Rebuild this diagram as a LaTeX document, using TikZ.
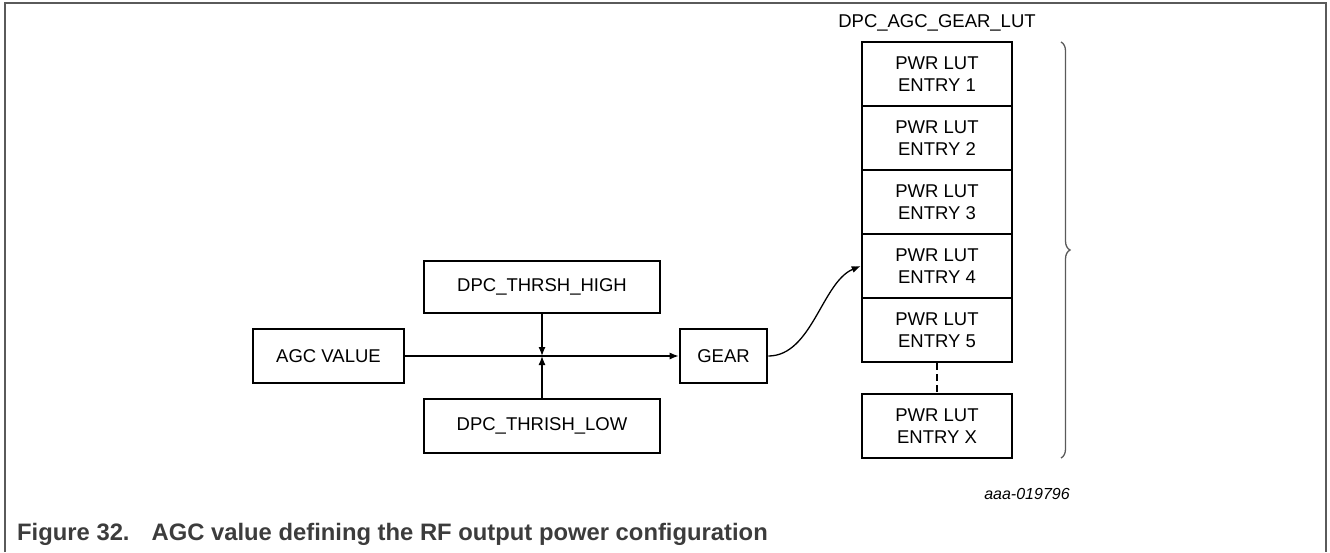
\documentclass[tikz,border=0pt]{standalone}
\usepackage{fontspec}
\setmainfont{Liberation Sans}
\usetikzlibrary{arrows.meta,decorations.pathreplacing}
\definecolor{framegray}{HTML}{5A5A5A}
\definecolor{captiongray}{HTML}{3C3C3C}
\tikzset{
  box/.style={draw=black, line width=2.6pt, rectangle, inner sep=0pt, align=center,
    font=\fontsize{18.5}{21.5}\selectfont},
  arr/.style={line width=1.3pt, -{Latex[length=9pt,width=7pt]}},
  plain/.style={line width=1.3pt},
  lbl/.style={inner sep=0pt, font=\fontsize{18.5}{21.5}\selectfont}
}
\begin{document}
\begin{tikzpicture}[x=1pt,y=-1pt]
\useasboundingbox (0,0) rectangle (1330,552);
% frame
\draw[framegray, line width=1.5pt] (5,552) -- (5,3) -- (1326,3) -- (1326,552);
% left part
\node[box, minimum width=151pt, minimum height=54pt] (agc) at (328.5,356) {AGC VALUE};
\node[box, minimum width=236pt, minimum height=52pt] (high) at (542,287) {DPC\_THRSH\_HIGH};
\node[box, minimum width=236pt, minimum height=54pt] (low) at (542,426) {DPC\_THRISH\_LOW};
\node[box, minimum width=87pt, minimum height=54pt] (gear) at (723.5,356) {GEAR};
\coordinate (j) at (542,356);
\draw[arr] (agc.east) -- (gear.west);
\draw[arr] (high.south) -- (j);
\draw[arr] (low.north) -- (j);
% LUT column
\node[lbl] (luttitle) at (937,23) {DPC\_AGC\_GEAR\_LUT};
\node[box, minimum width=150pt, minimum height=64pt] (e1) at (937,74) {PWR LUT\\ENTRY 1};
\node[box, minimum width=150pt, minimum height=64pt] (e2) at (937,138) {PWR LUT\\ENTRY 2};
\node[box, minimum width=150pt, minimum height=64pt] (e3) at (937,202) {PWR LUT\\ENTRY 3};
\node[box, minimum width=150pt, minimum height=64pt] (e4) at (937,266) {PWR LUT\\ENTRY 4};
\node[box, minimum width=150pt, minimum height=64pt] (e5) at (937,330) {PWR LUT\\ENTRY 5};
\node[box, minimum width=150pt, minimum height=64pt] (ex) at (937,426) {PWR LUT\\ENTRY X};
\draw[plain, dash pattern=on 7pt off 4pt] (e5.south) -- (ex.north);
% curved connector
\draw[arr] (gear.east) .. controls (812,356) and (822,282) .. (e4.west);
% brace
\coordinate (bt) at (1061,42);
\coordinate (bb) at (1061,458);
\draw[framegray, line width=1.3pt, decorate, decoration={brace, amplitude=9pt}] (bt) -- (bb);
% figure id
\node[lbl, font=\itshape\fontsize{16}{19}\selectfont] (figid) at (1027,494) {aaa-019796};
% caption
\node[inner sep=0pt, anchor=base west, text=captiongray, font=\bfseries\fontsize{23.8}{27}\selectfont] (caption) at (17,540) {Figure 32.\hspace{22pt}AGC value defining the RF output power configuration};
\end{tikzpicture}
\end{document}
